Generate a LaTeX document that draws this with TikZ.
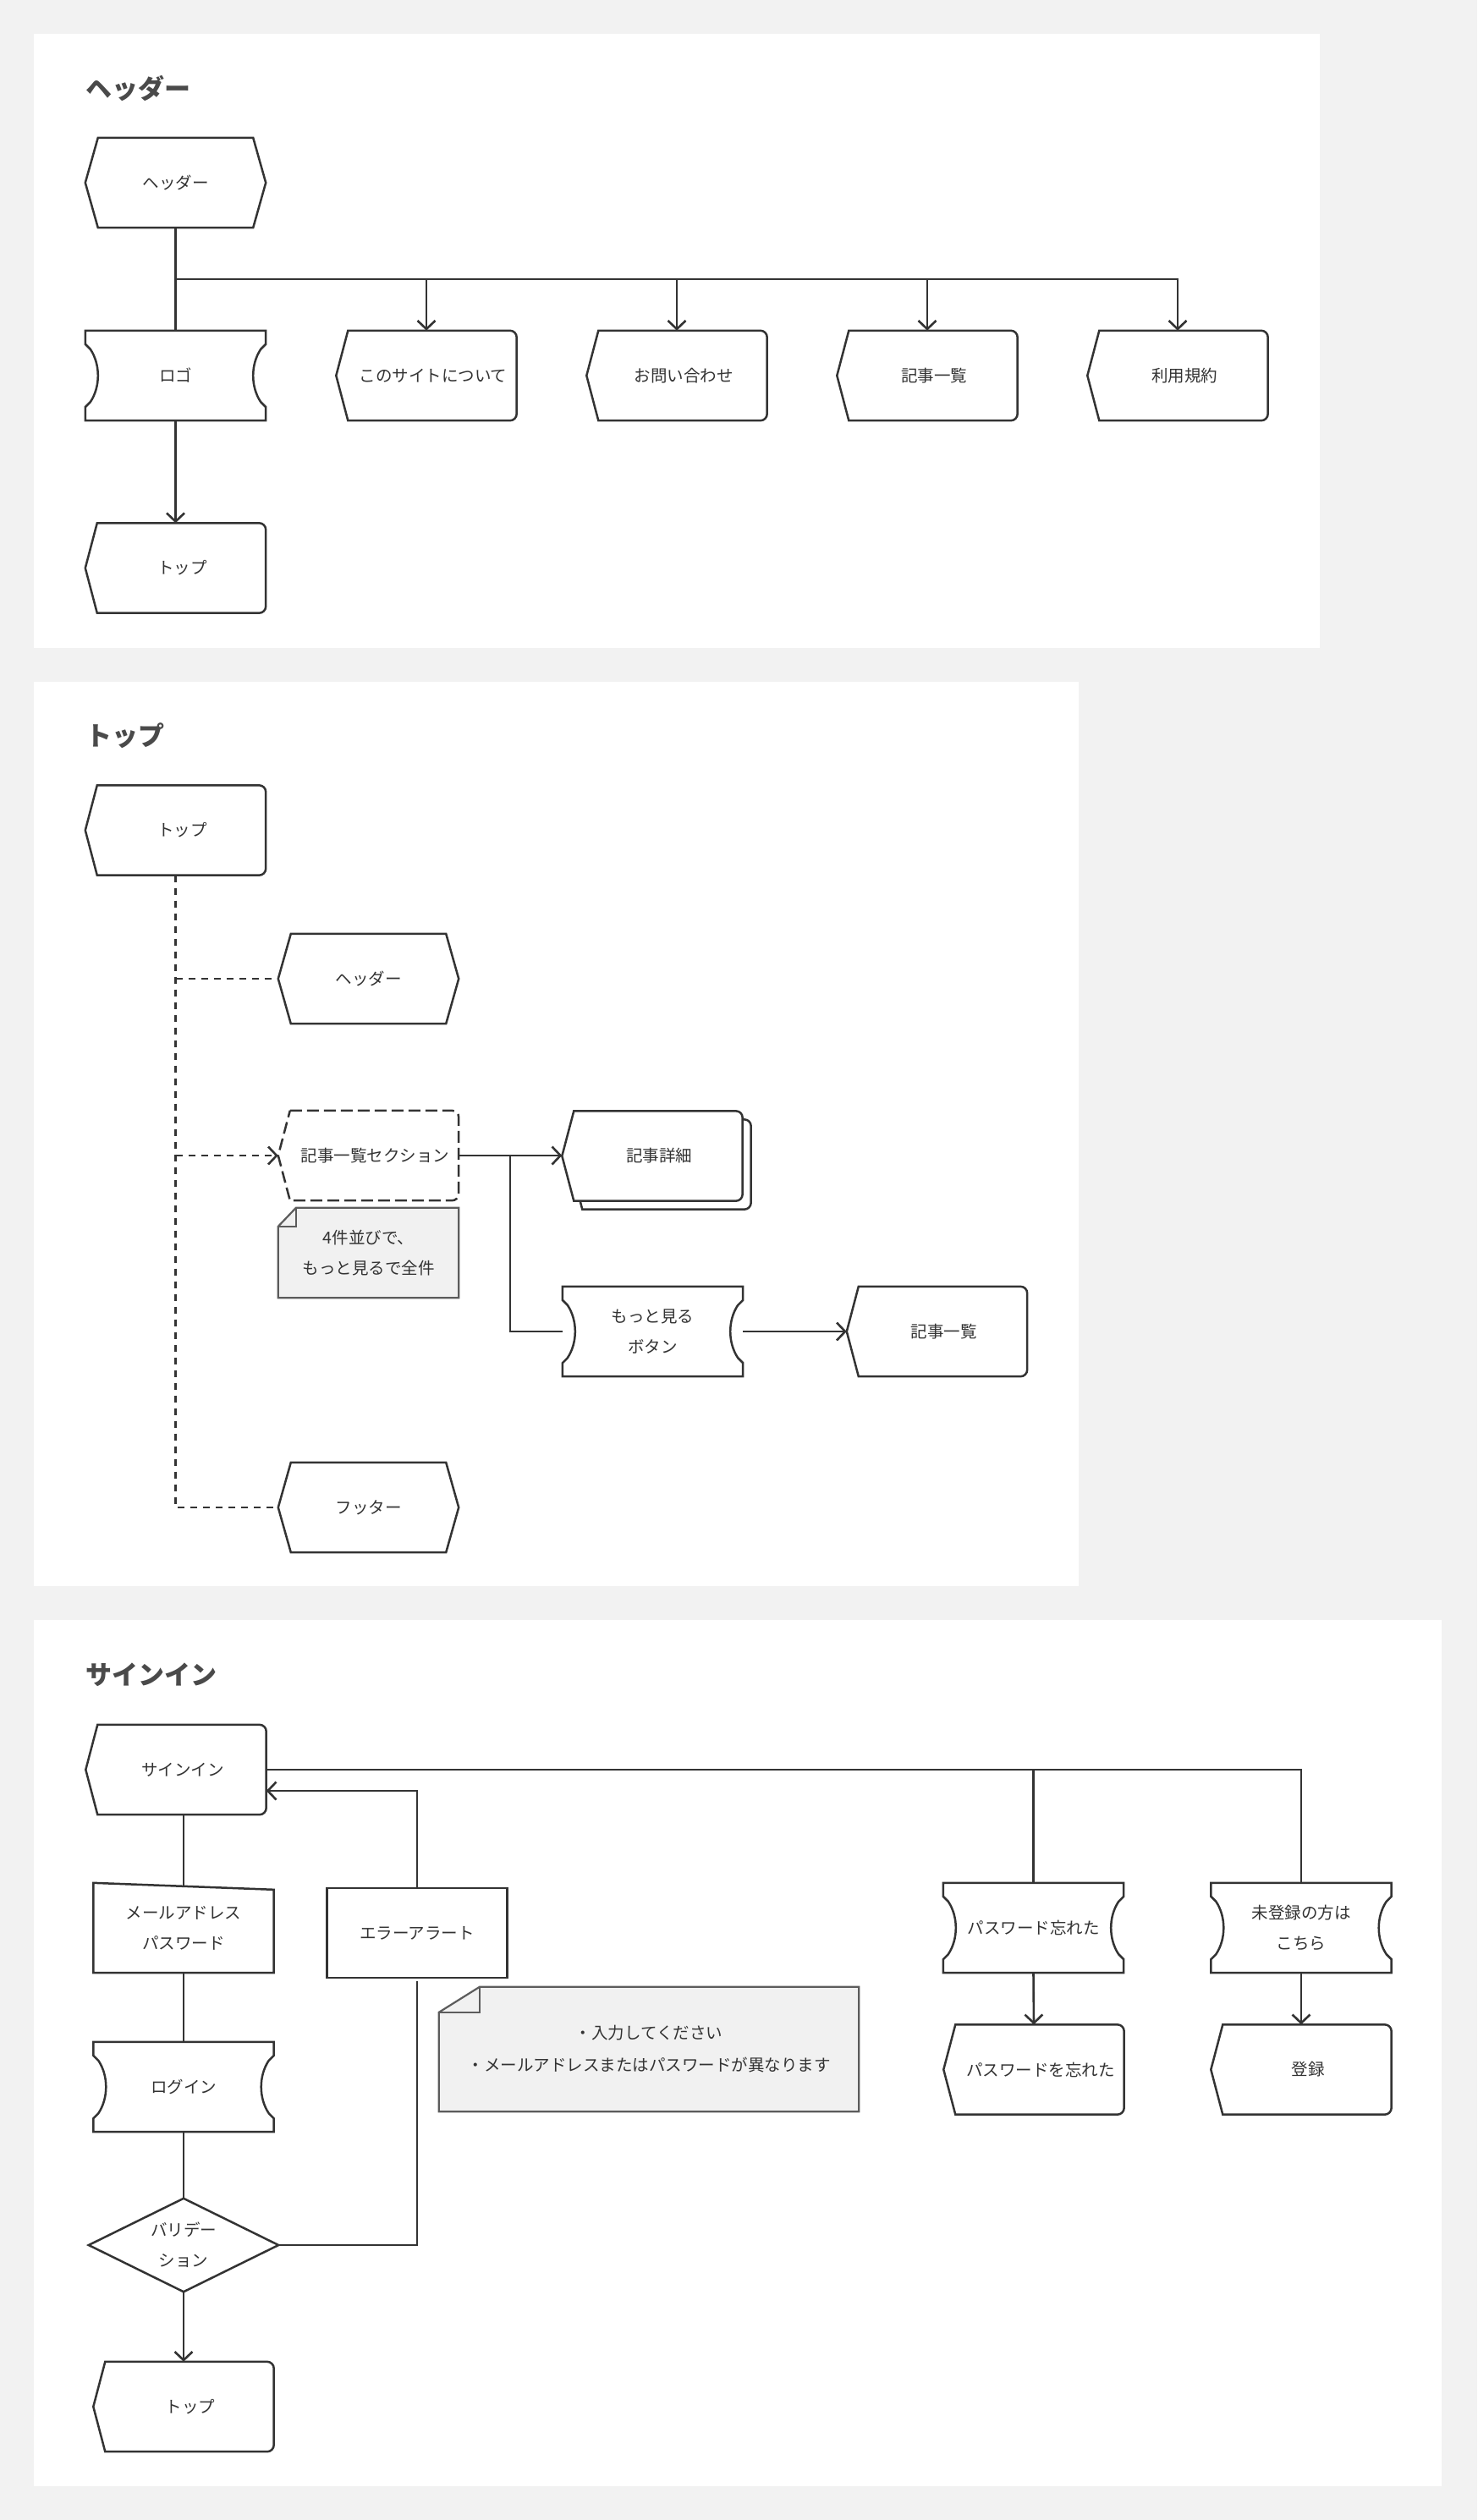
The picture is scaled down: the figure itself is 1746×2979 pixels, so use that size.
\documentclass[tikz,border=0pt]{standalone}
\usepackage{fontspec}
\setmainfont{Noto Sans CJK JP}
\usetikzlibrary{arrows.meta}

\definecolor{ink}{HTML}{333333}
\definecolor{pagebg}{HTML}{F2F2F2}
\definecolor{notefill}{HTML}{F1F1F1}
\definecolor{noteline}{HTML}{5C5C5C}
\definecolor{titleink}{HTML}{4A4A4A}

\pgfdeclarelayer{panels}
\pgfdeclarelayer{outlines}
\pgfsetlayers{panels,outlines,main}

\newcommand\nodefont{\fontsize{19.5pt}{36pt}\selectfont}
\newcommand\titlefont{\fontsize{31pt}{36pt}\selectfont\bfseries}

\tikzset{
  box/.style={minimum width=213pt, minimum height=106pt, inner sep=0pt,
              text=ink, font=\nodefont, align=center},
  disp/.style={box, execute at begin node=\hspace*{16pt}},
  title/.style={anchor=west, inner sep=0pt, text=titleink, font=\titlefont},
  shapeline/.style={draw=ink, line width=2.5pt, line join=miter},
  conn/.style={draw=ink, line width=2.6pt},
  arr/.style={-{Straight Barb[length=10pt,width=21pt]}},
  dashline/.style={dash pattern=on 8pt off 7pt},
  dashborder/.style={dash pattern=on 14pt off 6pt},
}

% outline of a hexagonal preparation box
\newcommand\hexout[1]{%
  \begin{pgfonlayer}{outlines}
  \draw[shapeline] ([xshift=15pt]#1.north west) -- ([xshift=-15pt]#1.north east)
    -- (#1.east) -- ([xshift=-15pt]#1.south east) -- ([xshift=15pt]#1.south west)
    -- (#1.west) -- cycle;
  \end{pgfonlayer}}

% outline of a display box: pointed left side, rounded right corners
\newcommand\dispout[2][]{%
  \begin{pgfonlayer}{outlines}
  \draw[shapeline,#1] ([xshift=14pt]#2.north west) -- ([xshift=-8pt]#2.north east)
    arc[start angle=90,end angle=0,radius=8pt] -- ([yshift=8pt]#2.south east)
    arc[start angle=0,end angle=-90,radius=8pt] -- ([xshift=14pt]#2.south west)
    -- (#2.west) -- cycle;
  \end{pgfonlayer}}

% outline of a box with both sides hollowed in
\newcommand\cardout[1]{%
  \begin{pgfonlayer}{outlines}
  \draw[shapeline] (#1.north west) -- (#1.north east)
    -- ([yshift=-16pt]#1.north east) -- ([shift={(-6pt,-22pt)}]#1.north east)
    .. controls ([shift={(-18pt,-40pt)}]#1.north east) and ([shift={(-18pt,40pt)}]#1.south east)
    .. ([shift={(-6pt,22pt)}]#1.south east) -- ([yshift=16pt]#1.south east)
    -- (#1.south east) -- (#1.south west)
    -- ([yshift=16pt]#1.south west) -- ([shift={(6pt,22pt)}]#1.south west)
    .. controls ([shift={(18pt,40pt)}]#1.south west) and ([shift={(18pt,-40pt)}]#1.north west)
    .. ([shift={(6pt,-22pt)}]#1.north west) -- ([yshift=-16pt]#1.north west) -- cycle;
  \end{pgfonlayer}}

% outline of a note with a folded top-left corner
\newcommand\noteout[3]{%
  \begin{pgfonlayer}{outlines}
  \filldraw[fill=notefill, draw=noteline, line width=2.2pt]
    ([xshift=#2]#1.north west) -- (#1.north east) -- (#1.south east)
    -- (#1.south west) -- ([yshift=-#3]#1.north west) -- cycle;
  \draw[draw=noteline, line width=2.2pt] ([xshift=#2]#1.north west)
    -- ([shift={(#2,-#3)}]#1.north west) -- ([yshift=-#3]#1.north west);
  \end{pgfonlayer}}

\begin{document}
\begin{tikzpicture}[x=1pt,y=1pt]
\useasboundingbox (0,0) rectangle (1746,-2979);

\begin{pgfonlayer}{panels}
  \fill[pagebg] (0,0) rectangle (1746,-2979);
  \fill[white] (40,-40) rectangle (1560,-766);
  \fill[white] (40,-806) rectangle (1275,-1875);
  \fill[white] (40,-1915) rectangle (1704,-2939);
\end{pgfonlayer}

% ---------------- header section ----------------
\node[title] (t1) at (101,-105) {ヘッダー};

\node[box] (hdr) at (207.5,-216) {ヘッダー};
\node[box] (logo) at (207.5,-444) {ロゴ};
\node[disp] (about) at (504,-444) {このサイトについて};
\node[disp] (contact) at (800,-444) {お問い合わせ};
\node[disp] (list) at (1096,-444) {記事一覧};
\node[disp] (terms) at (1392,-444) {利用規約};
\node[disp] (top1) at (207.5,-671.5) {トップ};

\hexout{hdr}
\cardout{logo}
\dispout{about}
\dispout{contact}
\dispout{list}
\dispout{terms}
\dispout{top1}

\coordinate (busL) at (207.5,-330);
\draw[conn] (hdr.south) -- (logo.north);
\draw[conn,arr] (busL) -- (terms.north |- busL) -- (terms.north);
\draw[conn,arr] (about.north |- busL) -- (about.north);
\draw[conn,arr] (contact.north |- busL) -- (contact.north);
\draw[conn,arr] (list.north |- busL) -- (list.north);
\draw[conn,arr] (logo.south) -- (top1.north);

% ---------------- top page section ----------------
\node[title] (t2) at (101,-870) {トップ};

\node[disp] (top2) at (207.5,-981.5) {トップ};
\node[box] (hdr2) at (435.5,-1157) {ヘッダー};
\node[disp] (sect) at (435.5,-1366) {記事一覧セクション};
\node[box] (note1) at (435.5,-1481) {4件並びで、\\もっと見るで全件};
\node[box] (detailback) at (781,-1376.5) {};
\node[disp] (detail) at (771,-1366.5) {記事詳細};
\node[box] (more) at (771.5,-1574) {もっと見る\\ボタン};
\node[disp] (list2) at (1107.5,-1574) {記事一覧};
\node[box] (foot) at (435.5,-1782) {フッター};

\dispout{top2}
\hexout{hdr2}
\dispout[dashborder]{sect}
\noteout{note1}{21pt}{22pt}
\dispout[fill=white]{detailback}
\dispout[fill=white]{detail}
\cardout{more}
\dispout{list2}
\hexout{foot}

\draw[conn,dashline] (top2.south) -- (top2.south |- foot.west) -- (foot.west);
\draw[conn,dashline] (top2.south |- hdr2.west) -- (hdr2.west);
\draw[conn,dashline,arr] (top2.south |- sect.west) -- (sect.west);
\draw[conn,arr] (sect.east) -- (detail.west |- sect.east);
\coordinate (branch) at (603,-1366);
\draw[conn] (branch) -- (branch |- more.west) -- (more.west);
\draw[conn,arr] (more.east) -- (list2.west);

% ---------------- sign-in section ----------------
\node[title] (t3) at (101,-1980) {サインイン};

\node[disp] (signin) at (208,-2092) {サインイン};
\node[box] (mail) at (217,-2279) {メールアドレス\\パスワード};
\node[box] (alert) at (493,-2285) {エラーアラート};
\node[box] (login) at (217,-2467) {ログイン};
\node[box, minimum width=224pt, minimum height=110pt] (valid) at (217,-2654) {バリデー\\ション};
\node[disp] (top3) at (217,-2845) {トップ};
\node[box, minimum width=496pt, minimum height=147pt, font=\fontsize{19.5pt}{38pt}\selectfont] (note2) at (767,-2422.5)
  {・入力してください\\・メールアドレスまたはパスワードが異なります};
\node[box] (forgot) at (1221.5,-2279) {パスワード忘れた};
\node[box] (unreg) at (1538,-2279) {未登録の方は\\こちら};
\node[disp] (forgotpage) at (1222,-2446.5) {パスワードを忘れた};
\node[disp] (register) at (1538,-2446.5) {登録};

\dispout{signin}
\begin{pgfonlayer}{outlines}
  \draw[shapeline] (mail.north west) -- ([yshift=-8pt]mail.north east)
    -- (mail.south east) -- (mail.south west) -- cycle;
  \draw[shapeline] (alert.north west) rectangle (alert.south east);
  \draw[shapeline] (valid.north) -- (valid.east) -- (valid.south) -- (valid.west) -- cycle;
\end{pgfonlayer}
\cardout{login}
\dispout{top3}
\noteout{note2}{48pt}{30pt}
\cardout{forgot}
\cardout{unreg}
\dispout{forgotpage}
\dispout{register}

\draw[conn] (signin.east) -- (unreg.north |- signin.east) -- (unreg.north);
\draw[conn] (forgot.north |- signin.east) -- (forgot.north);
\draw[conn,arr] (forgot.south) -- (forgotpage.north);
\draw[conn,arr] (unreg.south) -- (register.north);
\draw[conn] (mail.north |- signin.south) -- ([yshift=-4pt]mail.north);
\draw[conn] (mail.south) -- (login.north);
\draw[conn] (login.south) -- (valid.north);
\draw[conn,arr] (valid.south) -- (top3.north);
\draw[conn] (valid.east) -- (alert.south |- valid.east) -- ([yshift=-4pt]alert.south);
\coordinate (back) at (493,-2117);
\draw[conn,arr] (alert.north) -- (back) -- (signin.east |- back);
\end{tikzpicture}
\end{document}
